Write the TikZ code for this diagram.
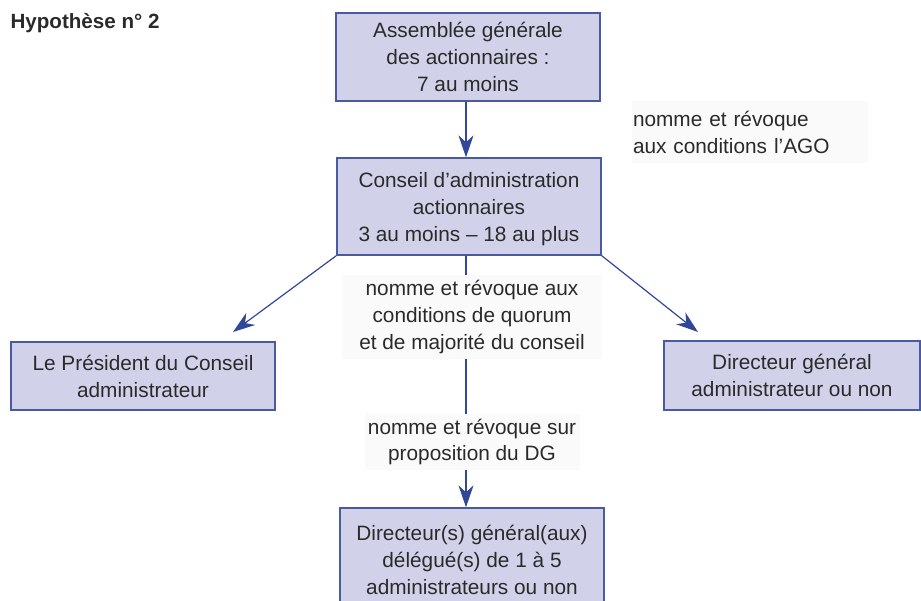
\documentclass[tikz,border=0pt]{standalone}
\usepackage{fontspec}
\setmainfont{Liberation Sans}
\usetikzlibrary{arrows.meta}
\definecolor{boxfill}{HTML}{D1D2EA}
\definecolor{boxline}{HTML}{4A5AA0}
\definecolor{arr}{HTML}{33479A}
\definecolor{txt}{HTML}{2A2A2A}
\definecolor{labbg}{HTML}{FAFAFA}
\begin{document}
\begin{tikzpicture}[x=1pt,y=-1pt,
  box/.style={draw=boxline, fill=boxfill, line width=1.3pt, text=txt,
    font=\fontsize{20.8}{27}\selectfont, align=center, inner sep=0pt},
  lab/.style={fill=labbg, text=txt, font=\fontsize{20.8}{27}\selectfont, inner sep=0pt},
  conn/.style={draw=arr, line width=1.2pt},
  arrow/.style={conn, -{Stealth[length=22pt,width=15pt,inset=7pt]}}]
\useasboundingbox (0,0) rectangle (921,601);

\node[anchor=west, text=txt, font=\bfseries\fontsize{20.6}{24}\selectfont] (titre) at (7,23) {Hypothèse n° 2};

\node[box, minimum width=264pt, minimum height=88pt] (ag) at (468,57)
  {Assemblée générale\\des actionnaires :\\7 au moins};
\node[box, minimum width=264pt, minimum height=97pt] (ca) at (469,206.5)
  {\rule{0pt}{21pt}Conseil d’administration\\actionnaires\\3 au moins – 18 au plus};
\node[box, minimum width=264pt, minimum height=68pt] (pres) at (143,376)
  {Le Président du Conseil\\administrateur};
\node[box, minimum width=256pt, minimum height=69pt] (dg) at (792,375.5)
  {Directeur général\\administrateur ou non};
\node[box, minimum width=264pt, minimum height=104pt] (dgd) at (472,560)
  {Directeur(s) général(aux)\\délégué(s) de 1 à 5\\administrateurs ou non};

\node[lab, minimum width=236pt, minimum height=62pt, text width=234pt, align=left] (l0) at (750,132)
  {nomme et révoque\\aux conditions l’AGO};
\node[lab, minimum width=260pt, minimum height=84pt, align=center] (l1) at (472,317)
  {nomme et révoque aux\\conditions de quorum\\et de majorité du conseil};
\node[lab, minimum width=215pt, minimum height=55pt, align=center] (l2) at (472,442)
  {nomme et révoque sur\\proposition du DG};

\coordinate (vx) at (466,0);
\coordinate (tipL) at (233,332);
\coordinate (tipR) at (698,332);

\draw[arrow] (ag.south -| vx) -- (ca.north -| vx);
\draw[conn] (ca.south -| vx) -- (l1.north -| vx);
\draw[conn] (l1.south -| vx) -- (l2.north -| vx);
\draw[arrow] (l2.south -| vx) -- (dgd.north -| vx);
\draw[arrow] (ca.south west) -- (tipL);
\draw[arrow] (ca.south east) -- (tipR);
\end{tikzpicture}
\end{document}
